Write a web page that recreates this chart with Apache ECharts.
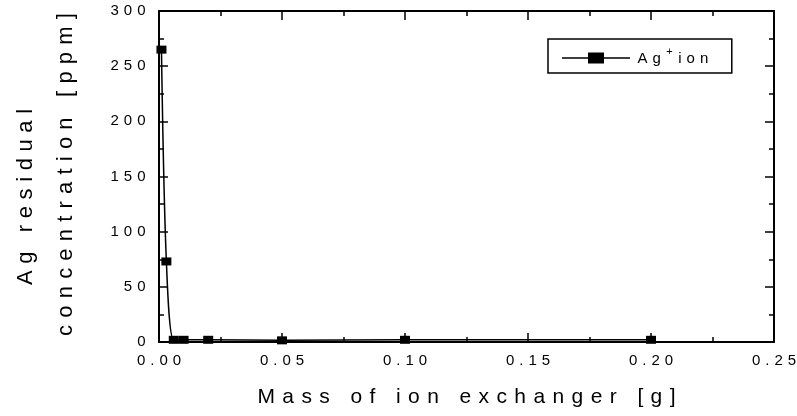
<!DOCTYPE html>
<html><head><meta charset="utf-8">
<script src="https://cdn.jsdelivr.net/npm/echarts@6/dist/echarts.min.js"></script>
<style>html,body{margin:0;padding:0;background:#fff}#c{width:797px;height:416px}</style>
</head><body><div id="c"></div>
<script>
const massG = [0.001, 0.003, 0.006, 0.01, 0.02, 0.05, 0.1, 0.2];
const agPpm = [265, 73, 2, 2, 2, 1.5, 2, 2];
const xTicks = ['0.00','0.05','0.10','0.15','0.20','0.25'];
const yTicks = ['0','50','100','150','200','250','300'];
const seriesName = 'Ag+ion';
const xTitle = 'Mass of ion exchanger [g]';
const yTitle1 = 'Ag residual';
const yTitle2 = 'concentration [ppm]';

const font = 'Liberation Sans, Arial, sans-serif';
// letter-spaced text: each character is a rich token with side padding
const spaced = (s, k) => s.split('').map(ch => '{' + k + '|' + ch + '}').join('');
const tok = (size, pad) => ({fontFamily: font, fontSize: size, color: '#000', padding: [0, pad, 0, pad]});

const chart = echarts.init(document.getElementById('c'));
const axisBase = {
  type: 'value',
  axisLine: {show: true, onZero: false, lineStyle: {color: '#000', width: 2}},
  axisTick: {show: true, inside: true, length: 9, lineStyle: {color: '#000', width: 1.5}},
  minorTick: {show: true, splitNumber: 2, length: 5, lineStyle: {color: '#000', width: 1.5}},
  splitLine: {show: false}
};
chart.setOption({
  animation: false,
  grid: {left: 159, right: 23, top: 11, bottom: 74, containLabel: false, outerBoundsMode: 'none'},
  legend: {
    left: 548, top: 39,
    padding: [7, 21, 7, 14],
    borderColor: '#000', borderWidth: 1.5,
    itemWidth: 68, itemHeight: 11, itemGap: 0,
    icon: 'path://M0,4.75H26V0H42V4.75H68V6.25H42V11H26V6.25H0Z',
    itemStyle: {color: '#000'},
    data: [seriesName],
    formatter: () => spaced('Ag', 'c') + '{sup|+}' + spaced('ion', 'c'),
    textStyle: {
      fontFamily: font, fontSize: 15, color: '#000',
      rich: {
        c: Object.assign(tok(15, 2.5), {lineHeight: 16, verticalAlign: 'bottom'}),
        sup: {fontFamily: font, fontSize: 11, lineHeight: 11, color: '#000', padding: [0, 3, 9, 3], verticalAlign: 'bottom'}
      }
    }
  },
  xAxis: [
    Object.assign({}, axisBase, {
      position: 'bottom', min: 0, max: 0.25, interval: 0.05,
      axisLabel: {color: '#000', fontFamily: font, fontSize: 15, margin: 11,
        formatter: v => spaced(xTicks[Math.round(v / 0.05)], 't'),
        rich: {t: tok(15, 2.5)}},
      name: spaced(xTitle, 'n'), nameLocation: 'middle', nameGap: 45,
      nameTextStyle: {color: '#000', fontFamily: font, fontSize: 21, rich: {n: tok(21, 3.7)}}
    }),
    Object.assign({}, axisBase, {
      position: 'top', min: 0, max: 0.25, interval: 0.05, axisLabel: {show: false}
    })
  ],
  yAxis: [
    Object.assign({}, axisBase, {
      position: 'left', min: 0, max: 300, interval: 50,
      axisLabel: {color: '#000', fontFamily: font, fontSize: 15, margin: 11,
        formatter: v => spaced(yTicks[Math.round(v / 50)], 't'),
        rich: {t: tok(15, 2.5)}}
    }),
    Object.assign({}, axisBase, {
      position: 'right', min: 0, max: 300, interval: 50, axisLabel: {show: false}
    })
  ],
  graphic: [
    {type: 'text', x: 26, y: 197, rotation: Math.PI / 2,
      style: {text: spaced(yTitle1, 'n'), rich: {n: tok(22, 3.3)}, align: 'center', verticalAlign: 'middle',
        fontFamily: font, fontSize: 22, fill: '#000'}},
    {type: 'text', x: 66, y: 174.5, rotation: Math.PI / 2,
      style: {text: spaced(yTitle2, 'n'), rich: {n: tok(22, 3.6)}, align: 'center', verticalAlign: 'middle',
        fontFamily: font, fontSize: 22, fill: '#000'}}
  ],
  series: [{
    name: seriesName,
    type: 'line',
    smooth: 0.3,
    data: massG.map((x, i) => [x, agPpm[i]]),
    symbol: 'rect', symbolSize: [10, 8],
    lineStyle: {color: '#000', width: 1.5},
    itemStyle: {color: '#000'},
    clip: false
  }]
});
</script></body></html>
